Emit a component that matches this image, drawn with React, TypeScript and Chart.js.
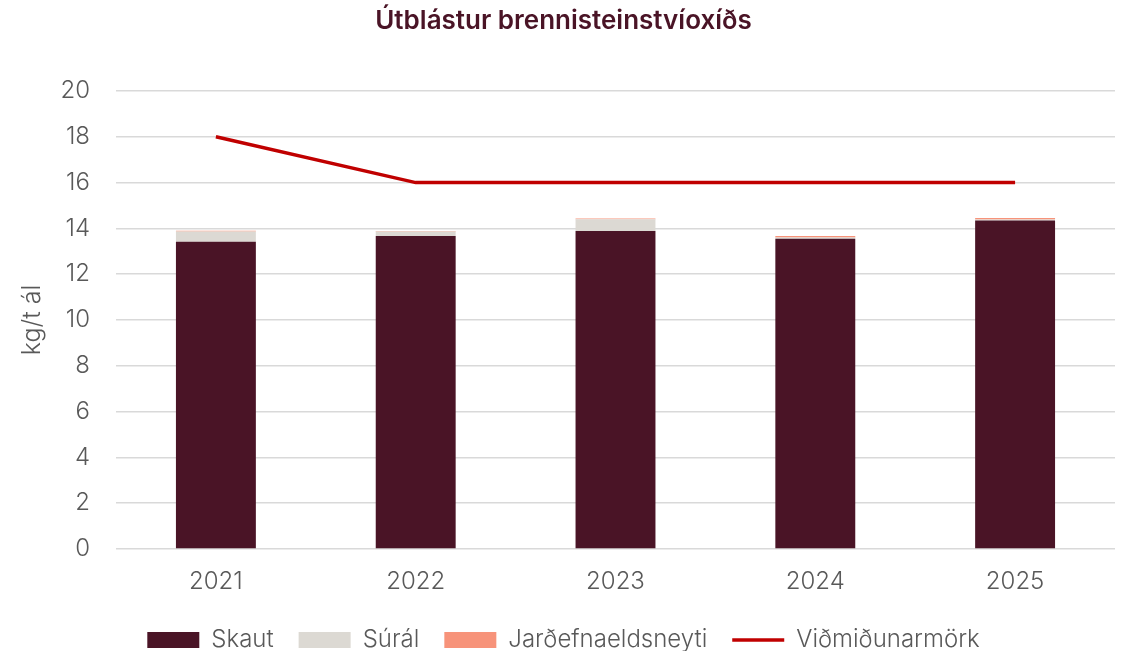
import { useEffect, useRef } from 'react';
import { Chart, registerables } from 'chart.js';

Chart.register(...registerables);

const categories = ['2021', '2022', '2023', '2024', '2025'];
const skaut = [13.42, 13.67, 13.89, 13.55, 14.35];
const sural = [0.45, 0.19, 0.51, 0.05, 0.04];
const jardefni = [0.03, 0.03, 0.03, 0.07, 0.06];
const vidmid = [18, 16, 16, 16, 16];
const yTicks = [0, 2, 4, 6, 8, 10, 12, 14, 16, 18, 20];

const FONT = 'Inter, "Noto Sans", sans-serif';
const GREY = '#595959';

export default function App() {
  const ref = useRef<HTMLCanvasElement>(null);
  useEffect(() => {
    document.body.style.margin = '0';
    const chart = new Chart(ref.current!, {
      type: 'bar',
      data: {
        labels: categories,
        datasets: [
          {
            label: 'Skaut',
            data: skaut,
            backgroundColor: '#4a1426',
            borderWidth: 0,
            stack: 'bars',
            order: 1,
            pointStyle: 'rect',
          } as any,
          {
            label: 'Súrál',
            data: sural,
            backgroundColor: '#dcd9d3',
            borderWidth: 0,
            stack: 'bars',
            order: 1,
            pointStyle: 'rect',
          },
          {
            label: 'Jarðefnaeldsneyti',
            data: jardefni,
            backgroundColor: '#f7937a',
            borderWidth: 0,
            stack: 'bars',
            order: 1,
            pointStyle: 'rect',
          },
          {
            type: 'line',
            label: 'Viðmiðunarmörk',
            data: vidmid,
            borderColor: '#c00000',
            backgroundColor: '#c00000',
            borderWidth: 3.5,
            pointRadius: 0,
            pointHoverRadius: 0,
            pointStyle: 'line',
            stack: 'limit',
            order: 0,
            tension: 0,
          },
        ],
      },
      options: {
        animation: false,
        responsive: true,
        maintainAspectRatio: false,
        layout: { padding: 0 },
        datasets: {
          bar: { barPercentage: 0.4, categoryPercentage: 1 },
        },
        plugins: {
          tooltip: { enabled: false },
          title: {
            display: true,
            text: 'Útblástur brennisteinstvíoxíðs',
            color: '#4a1426',
            font: { family: FONT, size: 26, weight: 600 as any, lineHeight: 1.2 },
            padding: { top: 6, bottom: 53.8 },
          },
          legend: {
            position: 'bottom',
            labels: {
              usePointStyle: true,
              pointStyleWidth: 52,
              boxHeight: 16,
              padding: 25,
              color: GREY,
              font: { family: FONT, size: 24, weight: 300 as any, lineHeight: 1.2 },
              sort: (a: any, b: any) => a.datasetIndex - b.datasetIndex,
            },
          },
        },
        scales: {
          x: {
            stacked: true,
            grid: { display: false },
            border: { display: false },
            ticks: {
              color: GREY,
              padding: 10,
              font: { family: FONT, size: 24, weight: 300 as any, lineHeight: 1.2 },
            },
            afterFit: (s: any) => {
              s.height = 54;
              s.paddingRight = 12;
            },
          },
          y: {
            stacked: true,
            min: 0,
            max: 20,
            grid: { color: '#d9d9d9', lineWidth: 1.5, drawTicks: false },
            border: { display: false },
            afterBuildTicks: (s: any) => {
              s.ticks = yTicks.map((v) => ({ value: v }));
            },
            ticks: {
              color: GREY,
              padding: 26,
              font: { family: FONT, size: 24, weight: 300 as any, lineHeight: 1.2 },
            },
            title: {
              display: true,
              text: 'kg/t ál',
              color: GREY,
              padding: { top: 17.5, bottom: 0 },
              font: { family: FONT, size: 25, weight: 300 as any, lineHeight: 1.2 },
            },
            afterFit: (s: any) => {
              s.width = 116;
            },
          },
        },
      },
    });
    return () => chart.destroy();
  }, []);
  return (
    <div
      style={{
        position: 'fixed',
        left: 0,
        top: 0,
        width: 1127,
        height: 651,
        overflow: 'hidden',
        background: '#ffffff',
      }}
    >
      <div style={{ position: 'relative', width: 1127, height: 662 }}>
        <canvas ref={ref} />
      </div>
    </div>
  );
}
